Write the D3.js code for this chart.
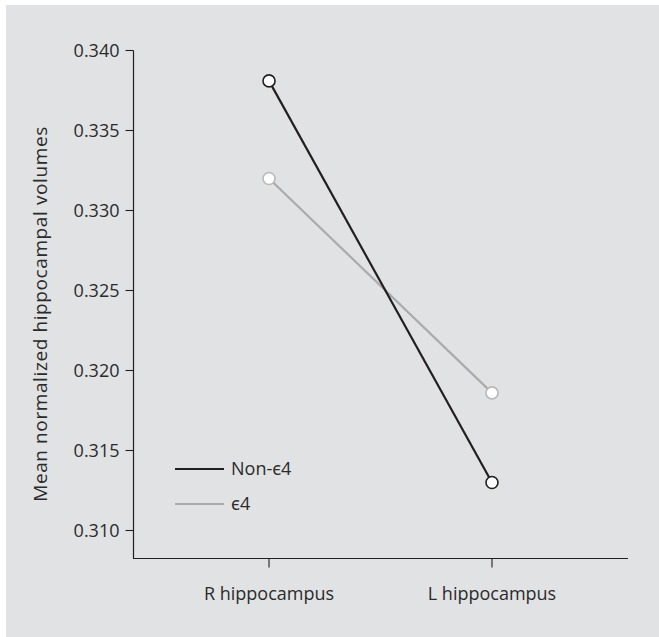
<!DOCTYPE html>
<html>
<head>
<meta charset="utf-8">
<script src="https://cdn.jsdelivr.net/npm/d3@7"></script>
<style>
  html, body { margin: 0; padding: 0; background: #ffffff; }
  svg { display: block; }
  text { font-family: "Open Sans", "Noto Sans", sans-serif; fill: #2b2b2b; }
</style>
</head>
<body>
<svg id="chart" width="659" height="637"></svg>
<script>
// Regions measured and group labels
const categories = ["R hippocampus", "L hippocampus"];
const seriesNames = ["Non-\u03F54", "\u03F54"];
const nonE4Values = [0.3381, 0.3130];
const e4Values = [0.3320, 0.3186];
const yTicks = [0.310, 0.315, 0.320, 0.325, 0.330, 0.335, 0.340];
const seriesColors = ["#231f20", "#ababab"];
const markerStroke = ["#231f20", "#b9b9b9"];

const svg = d3.select("#chart");

// panel background
svg.append("rect")
  .attr("x", 6).attr("y", 5)
  .attr("width", 653).attr("height", 632)
  .attr("fill", "#e1e2e4");

const y = d3.scaleLinear().domain([0.310, 0.340]).range([530.5, 50.5]);
const yBottom = 558.5;
const x = d3.scalePoint().domain(categories).range([133, 628]).padding(0.61);

// y axis
const yAxis = svg.append("g").attr("transform", "translate(133.5,0)");
yAxis.append("line")
  .attr("y1", y(0.340)).attr("y2", yBottom)
  .attr("stroke", "#231f20").attr("stroke-width", 1.2);
yAxis.selectAll("line.tick").data(yTicks).join("line")
  .attr("class", "tick")
  .attr("x1", -8).attr("x2", 0)
  .attr("y1", d => y(d)).attr("y2", d => y(d))
  .attr("stroke", "#231f20").attr("stroke-width", 1.1);
yAxis.selectAll("text").data(yTicks).join("text")
  .attr("x", -14).attr("y", d => y(d))
  .attr("dy", "0.35em")
  .attr("text-anchor", "end")
  .attr("font-size", 18)
  .text(d3.format(".3f"));

// x axis
const xAxis = svg.append("g").attr("transform", `translate(0,${yBottom})`);
xAxis.append("line")
  .attr("x1", 133).attr("x2", 628)
  .attr("stroke", "#231f20").attr("stroke-width", 1.2);
xAxis.selectAll("line.tick").data(categories).join("line")
  .attr("class", "tick")
  .attr("x1", d => x(d)).attr("x2", d => x(d))
  .attr("y1", 0).attr("y2", 9)
  .attr("stroke", "#231f20").attr("stroke-width", 1.1);
xAxis.selectAll("text").data(categories).join("text")
  .attr("x", d => x(d)).attr("y", 41)
  .attr("text-anchor", "middle")
  .attr("font-size", 18)
  .text(d => d);

// y axis title
svg.append("text")
  .attr("transform", `translate(47,314) rotate(-90)`)
  .attr("text-anchor", "middle")
  .attr("font-size", 19)
  .attr("letter-spacing", 0.6)
  .text("Mean normalized hippocampal volumes");

// series lines and markers (drawn light first so dark sits on top)
const series = [
  { name: seriesNames[1], values: e4Values, color: seriesColors[1], mark: markerStroke[1] },
  { name: seriesNames[0], values: nonE4Values, color: seriesColors[0], mark: markerStroke[0] }
];
const line = d3.line().x((d, i) => x(categories[i])).y(d => y(d));

series.forEach(s => {
  svg.append("path")
    .attr("d", line(s.values))
    .attr("fill", "none")
    .attr("stroke", s.color)
    .attr("stroke-width", 2.2);
  svg.selectAll(null).data(s.values).join("circle")
    .attr("cx", (d, i) => x(categories[i]))
    .attr("cy", d => y(d))
    .attr("r", 6)
    .attr("fill", "#ffffff")
    .attr("stroke", s.mark)
    .attr("stroke-width", 1.6);
});

// legend
const legend = svg.append("g").attr("transform", "translate(175,469)");
[0, 1].forEach(i => {
  const g = legend.append("g").attr("transform", `translate(0,${i * 35})`);
  g.append("line")
    .attr("x1", 0).attr("x2", 49)
    .attr("stroke", seriesColors[i]).attr("stroke-width", 2.2);
  g.append("text")
    .attr("x", 56).attr("dy", "0.35em")
    .attr("font-size", 18)
    .text(seriesNames[i]);
});
</script>
</body>
</html>
